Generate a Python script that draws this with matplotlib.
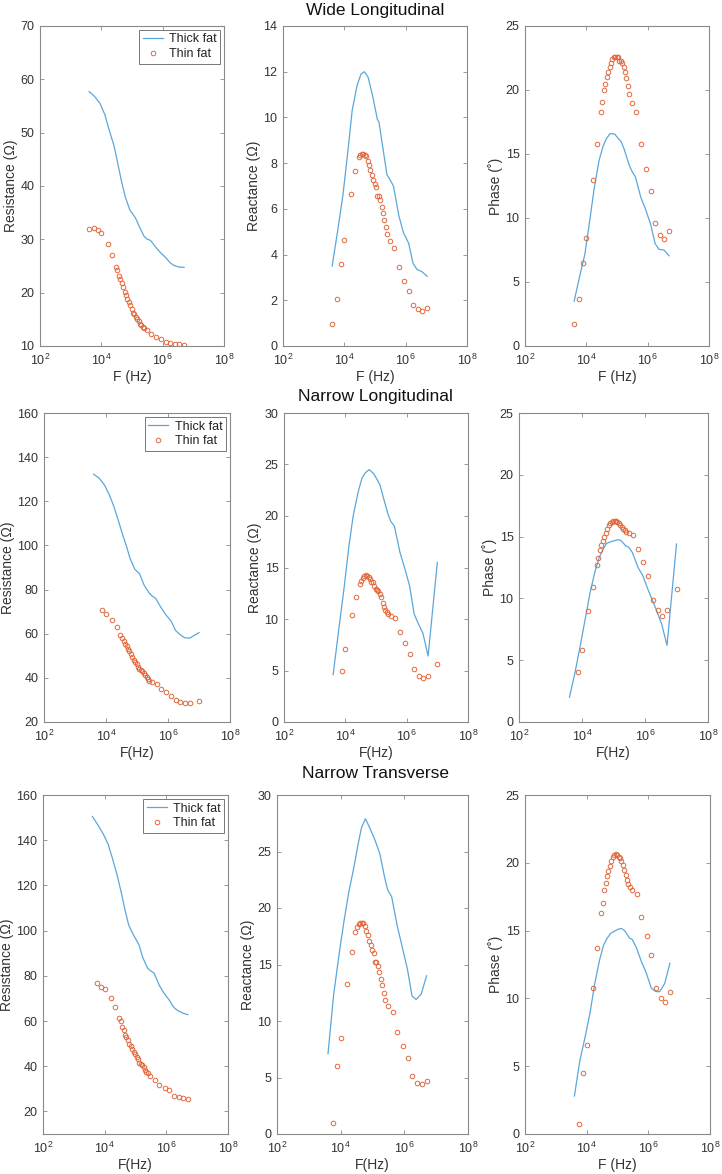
import matplotlib
matplotlib.use("Agg")
import matplotlib.pyplot as plt
from matplotlib.ticker import FixedLocator, LogFormatterSciNotation, NullLocator

plt.rcParams['font.family'] = ['Liberation Sans', 'DejaVu Sans']
plt.rcParams['mathtext.fontset'] = 'custom'
plt.rcParams['mathtext.rm'] = 'Liberation Sans'
plt.rcParams['mathtext.it'] = 'Liberation Sans:italic'
plt.rcParams['mathtext.bf'] = 'Liberation Sans:bold'

# frequencies (Hz) of the thick-fat curves
freq_line = [4000, 6000, 9000, 13000, 18000, 26000, 35000, 45000, 60000, 85000,
             120000, 135000, 170000, 245000, 300000, 400000, 600000, 850000,
             1250000, 1750000, 2350000, 3400000, 5000000]
freq_line_nl = freq_line + [10000000]

# frequencies (Hz) of the thin-fat markers
freq_pts_wl = [4000, 5600, 7700, 10000, 16000, 22000, 29000, 33000, 37000, 41000,
               46000, 51000, 57000, 63000, 70000, 78000, 87000, 97000, 108000, 120000,
               133000, 148000, 165000, 183000, 204000, 227000, 252000, 300000, 430000,
               600000, 890000, 1260000, 1780000, 2500000, 3500000, 5000000]
freq_pts_nl = [7700, 10000, 16000, 22000, 29000, 33000, 37000, 41000,
               46000, 51000, 57000, 63000, 70000, 78000, 87000, 97000, 108000, 120000,
               133000, 148000, 165000, 183000, 204000, 227000, 252000, 300000, 430000,
               600000, 890000, 1260000, 1780000, 2500000, 3500000, 5000000, 10000000]
freq_pts_nt = [5600, 7700, 10000, 16000, 22000, 29000, 33000, 37000, 41000,
               46000, 51000, 57000, 63000, 70000, 78000, 87000, 97000, 108000, 120000,
               133000, 148000, 165000, 183000, 204000, 227000, 252000, 300000, 430000,
               600000, 890000, 1260000, 1780000, 2500000, 3500000, 5000000]

# Wide Longitudinal
wl_res_thick = [57.7, 56.8, 55.5, 53.4, 50.5, 47.5, 44.0, 41.0, 38.0, 35.5, 34.3, 33.8,
                32.5, 30.6, 30.1, 29.8, 28.5, 27.5, 26.6, 25.6, 25.1, 24.8, 24.75]
wl_res_thin = [31.9, 32.1, 31.75, 31.1, 29.1, 27.0, 24.9, 24.2, 23.2, 22.5, 21.8, 21.0,
               20.2, 19.5, 18.9, 18.3, 17.6, 17.0, 16.1, 16.0, 15.5, 15.0, 14.6, 14.2,
               13.9, 13.6, 13.3, 13.0, 12.2, 11.7, 11.3, 10.8, 10.5, 10.35, 10.3, 10.25]
wl_reac_thick = [3.5, 5.0, 6.6, 8.5, 10.3, 11.4, 11.9, 12.0, 11.75, 10.9, 9.9, 9.8,
                 8.9, 7.5, 7.3, 7.0, 5.7, 4.95, 4.5, 3.6, 3.35, 3.25, 3.05]
wl_reac_thin = [0.95, 2.05, 3.6, 4.65, 6.65, 7.65, 8.25, 8.35, 8.4, 8.4, 8.35, 8.3,
                8.1, 7.9, 7.7, 7.5, 7.25, 7.1, 6.95, 6.55, 6.55, 6.4, 6.1, 5.8,
                5.5, 5.2, 4.9, 4.6, 4.3, 3.45, 2.85, 2.4, 1.8, 1.6, 1.55, 1.65]
wl_phase_thick = [3.5, 5.4, 7.2, 9.85, 12.3, 14.5, 15.6, 16.2, 16.6, 16.55, 16.1, 16.0,
                  15.4, 14.2, 13.7, 13.2, 11.6, 10.7, 9.5, 8.0, 7.55, 7.5, 7.05]
wl_phase_thin = [1.7, 3.65, 6.5, 8.45, 12.95, 15.8, 18.3, 19.1, 20.0, 20.5, 21.0, 21.4,
                 21.8, 22.1, 22.4, 22.55, 22.6, 22.6, 22.55, 22.3, 22.25, 22.1, 21.8, 21.4,
                 20.9, 20.35, 19.7, 19.0, 18.3, 15.8, 13.8, 12.1, 9.6, 8.7, 8.35, 9.0]

# Narrow Longitudinal
nl_res_thick = [132.3, 130.5, 127.3, 122.7, 117.6, 110.5, 104.5, 100.0, 94.0, 89.2, 87.2, 85.5,
                82.0, 78.5, 77.2, 76.0, 71.8, 68.6, 65.8, 61.5, 59.8, 58.2, 58.0, 60.5]
nl_res_thin = [70.6, 69.1, 66.1, 63.0, 59.6, 58.0, 56.7, 55.5, 54.4, 53.2, 52.0, 50.6,
               49.4, 48.2, 47.1, 46.1, 44.8, 44.1, 43.5, 43.0, 42.0, 41.1, 40.2, 39.3,
               38.6, 38.0, 37.3, 35.0, 33.5, 32.0, 30.1, 29.0, 28.7, 28.5, 29.7]
nl_reac_thick = [4.6, 8.8, 12.9, 17.0, 20.0, 22.3, 23.7, 24.2, 24.5, 24.1, 23.3, 23.0,
                 21.9, 20.2, 19.5, 19.0, 16.5, 15.0, 13.2, 10.5, 9.6, 8.6, 6.4, 15.5]
nl_reac_thin = [4.95, 7.05, 10.35, 12.1, 13.4, 13.7, 14.0, 14.2, 14.25, 14.2, 14.1, 13.9,
                13.6, 13.6, 13.2, 12.9, 12.8, 12.7, 12.4, 12.1, 11.6, 11.2, 10.9, 10.7,
                10.5, 10.3, 10.1, 8.75, 7.65, 6.6, 5.15, 4.5, 4.25, 4.45, 5.65]
nl_phase_thick = [2.0, 4.0, 6.3, 8.5, 10.45, 12.2, 13.3, 13.9, 14.45, 14.6, 14.7, 14.75,
                  14.7, 14.25, 14.15, 13.7, 12.5, 11.85, 10.7, 9.8, 9.0, 7.9, 6.2, 14.4]
nl_phase_thin = [4.05, 5.85, 9.0, 10.95, 12.7, 13.25, 13.9, 14.3, 14.65, 15.0, 15.3, 15.6,
                 15.9, 16.1, 16.2, 16.25, 16.25, 16.25, 16.2, 16.1, 15.9, 15.75, 15.6, 15.5,
                 15.4, 15.3, 15.15, 14.0, 12.95, 11.85, 9.9, 9.05, 8.6, 9.05, 10.8]

# Narrow Transverse
nt_res_thick = [150.5, 146.8, 142.8, 138.2, 131.8, 124.0, 116.5, 109.5, 102.5, 98.2, 94.6, 93.0,
                88.2, 83.5, 82.3, 81.2, 75.6, 72.2, 69.2, 66.0, 64.6, 63.5, 62.8]
nt_res_thin = [77.0, 75.2, 74.0, 70.0, 66.0, 61.5, 60.0, 57.5, 56.0, 54.0, 53.0, 51.5,
               50.0, 49.0, 47.5, 46.5, 45.5, 44.0, 43.0, 41.5, 41.0, 40.5, 39.5, 38.5,
               37.5, 36.8, 35.8, 33.8, 31.5, 30.3, 29.5, 27.0, 26.3, 26.0, 25.6]
nt_reac_thick = [7.1, 12.3, 16.0, 19.0, 21.4, 23.6, 25.6, 27.1, 27.9, 27.0, 26.0, 25.6,
                 24.8, 22.6, 21.6, 21.0, 18.4, 16.6, 14.6, 12.2, 11.9, 12.4, 14.0]
nt_reac_thin = [1.0, 6.0, 8.5, 13.3, 16.1, 17.9, 18.3, 18.6, 18.7, 18.7, 18.7, 18.4,
                18.0, 17.6, 17.1, 16.7, 16.3, 16.0, 15.2, 15.2, 14.9, 14.3, 13.7, 13.2,
                12.5, 11.9, 11.3, 10.8, 9.0, 7.8, 6.7, 5.1, 4.55, 4.4, 4.7]
nt_phase_thick = [2.8, 5.4, 7.2, 9.0, 11.0, 12.8, 13.9, 14.4, 14.8, 15.0, 15.15, 15.15,
                  15.0, 14.45, 14.35, 13.8, 12.7, 11.9, 10.75, 10.5, 10.5, 11.1, 12.6]
nt_phase_thin = [0.75, 4.5, 6.6, 10.8, 13.7, 16.3, 17.05, 18.0, 18.5, 19.05, 19.4, 19.75,
                 20.15, 20.4, 20.55, 20.65, 20.6, 20.45, 20.35, 20.15, 19.85, 19.5, 19.1, 18.7,
                 18.4, 18.2, 18.0, 17.7, 16.0, 14.6, 13.2, 10.8, 10.0, 9.7, 10.5]

row_titles = ["Wide Longitudinal", "Narrow Longitudinal", "Narrow Transverse"]
ylabels = ["Resistance (Ω)", "Reactance (Ω)", "Phase (˚)"]
xlabels = [["F (Hz)", "F (Hz)", "F (Hz)"],
           ["F(Hz)", "F(Hz)", "F(Hz)"],
           ["F(Hz)", "F(Hz)", "F (Hz)"]]

panels = [
    [(freq_line, wl_res_thick, freq_pts_wl, wl_res_thin, (10, 70), range(10, 71, 10)),
     (freq_line, wl_reac_thick, freq_pts_wl, wl_reac_thin, (0, 14), range(0, 15, 2)),
     (freq_line, wl_phase_thick, freq_pts_wl, wl_phase_thin, (0, 25), range(0, 26, 5))],
    [(freq_line_nl, nl_res_thick, freq_pts_nl, nl_res_thin, (20, 160), range(20, 161, 20)),
     (freq_line_nl, nl_reac_thick, freq_pts_nl, nl_reac_thin, (0, 30), range(0, 31, 5)),
     (freq_line_nl, nl_phase_thick, freq_pts_nl, nl_phase_thin, (0, 25), range(0, 26, 5))],
    [(freq_line, nt_res_thick, freq_pts_nt, nt_res_thin, (10, 160), range(20, 161, 20)),
     (freq_line, nt_reac_thick, freq_pts_nt, nt_reac_thin, (0, 30), range(0, 31, 5)),
     (freq_line, nt_phase_thick, freq_pts_nt, nt_phase_thin, (0, 25), range(0, 26, 5))],
]

# axes boxes in pixels: (left, right) per column, (top, bottom) per row
W, H = 722, 1174
row_px = [(26, 346), (413, 722), (795, 1134)]
col_px = [[(40, 224), (283, 467), (525, 709)],
          [(44, 230), (284, 468), (519, 708)],
          [(43, 228), (277, 468), (525, 710)]]
title_y = [10, 397, 773]

line_color = '#5aa7dc'
pt_color = '#e0683c'
edge_color = '#8a8a8a'
text_color = '#333333'

fig = plt.figure(figsize=(W / 100, H / 100), dpi=100)

for r in range(3):
    top, bot = row_px[r]
    for c in range(3):
        left, right = col_px[r][c]
        ax = fig.add_axes([left / W, 1 - bot / H, (right - left) / W, (bot - top) / H])
        fl, yl, fp, yp, ylim, yticks = panels[r][c]
        ax.plot(fl, yl, color=line_color, lw=0.9, label='Thick fat')
        ax.plot(fp, yp, 'o', ms=3.3, mfc='none', mec=pt_color, mew=0.7, label='Thin fat')
        ax.set_xscale('log')
        ax.set_xlim(1e2, 1e8)
        ax.xaxis.set_major_locator(FixedLocator([1e2, 1e4, 1e6, 1e8]))
        ax.xaxis.set_major_formatter(LogFormatterSciNotation())
        ax.xaxis.set_minor_locator(NullLocator())
        ax.set_ylim(*ylim)
        ax.set_yticks(list(yticks))
        ax.tick_params(direction='in', top=True, right=True, length=3, width=0.6,
                       color=edge_color, labelsize=9, labelcolor=text_color)
        ax.tick_params(axis='x', pad=5)
        ax.tick_params(axis='y', pad=4)
        for s in ax.spines.values():
            s.set_color(edge_color)
            s.set_linewidth(0.8)
        ax.set_ylabel(ylabels[c], fontsize=10, color=text_color, labelpad=2)
        ax.set_xlabel(xlabels[r][c], fontsize=10, color=text_color, labelpad=1)
        if c == 0:
            leg = ax.legend(loc='upper right', fontsize=9, frameon=True, fancybox=False,
                            handlelength=1.6, handletextpad=0.5, borderpad=0.3,
                            labelspacing=0.2, borderaxespad=0.3)
            leg.get_frame().set_edgecolor('#555555')
            leg.get_frame().set_linewidth(0.7)
            for t in leg.get_texts():
                t.set_color('#222222')
    fig.text(375 / W, 1 - title_y[r] / H, row_titles[r], ha='center', va='center',
             fontsize=12.5, color='#111111')

fig.savefig('out.png', dpi=100)
